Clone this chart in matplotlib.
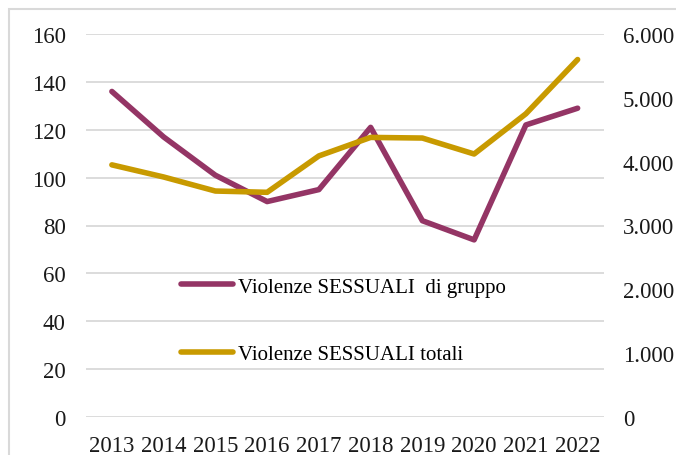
import matplotlib
matplotlib.use("Agg")
import matplotlib.pyplot as plt
from matplotlib.ticker import FuncFormatter, MultipleLocator
from matplotlib.patches import Rectangle

years = ["2013", "2014", "2015", "2016", "2017", "2018", "2019", "2020", "2021", "2022"]
gruppo = [136, 117, 101, 90, 95, 121, 82, 74, 122, 129]
totali = [3950, 3760, 3540, 3520, 4090, 4380, 4370, 4120, 4750, 5600]
label_gruppo = "Violenze SESSUALI  di gruppo"
label_totali = "Violenze SESSUALI totali"

plt.rcParams['font.family'] = ['Liberation Serif', 'DejaVu Serif']
FS = 16.5
LFS = 15
PURPLE = "#943565"
GOLD = "#C89A00"
GRID = "#D9D9D9"

fig = plt.figure(figsize=(6.76, 4.56), dpi=100)
fig.patches.append(Rectangle((9/676, -0.1), 1.2, 1 - 10/456 + 0.1, transform=fig.transFigure,
                             fill=False, edgecolor=GRID, linewidth=1.5, zorder=0))

ax = fig.add_axes([86/676, 1 - 418/456, (603.5 - 86)/676, (418 - 35)/456])
ax2 = ax.twinx()

x = list(range(len(years)))
l1, = ax.plot(x, gruppo, color=PURPLE, lw=4, solid_capstyle='round', label=label_gruppo)
l2, = ax2.plot(x, totali, color=GOLD, lw=4, solid_capstyle='round', label=label_totali)

ax.set_xlim(-0.5, len(years) - 0.5)
ax.set_ylim(0, 160)
ax.yaxis.set_major_locator(MultipleLocator(20))
ax2.set_ylim(0, 6000)
ax2.yaxis.set_major_locator(MultipleLocator(1000))
ax2.yaxis.set_major_formatter(FuncFormatter(lambda v, p: f"{int(v):,}".replace(",", ".")))

ax.set_xticks(x)
ax.set_xticklabels(years)
ax.grid(axis='y', color=GRID, lw=1.3)
ax.set_axisbelow(True)

for a in (ax, ax2):
    for s in a.spines.values():
        s.set_visible(False)
ax.tick_params(axis='y', length=0, pad=14.5, labelsize=FS, colors='#1a1a1a')
ax.tick_params(axis='x', length=0, pad=13, labelsize=FS, colors='#1a1a1a')
ax2.tick_params(axis='y', length=0, pad=14, labelsize=FS, colors='#1a1a1a')

fig.legend(handles=[l1, l2], loc='upper left', bbox_to_anchor=(181/676, 1 - 278/456),
           frameon=False, fontsize=LFS, handlelength=2.5, handletextpad=0.25,
           labelspacing=2.3, borderpad=0, borderaxespad=0)

fig.savefig("out.png", dpi=100)
